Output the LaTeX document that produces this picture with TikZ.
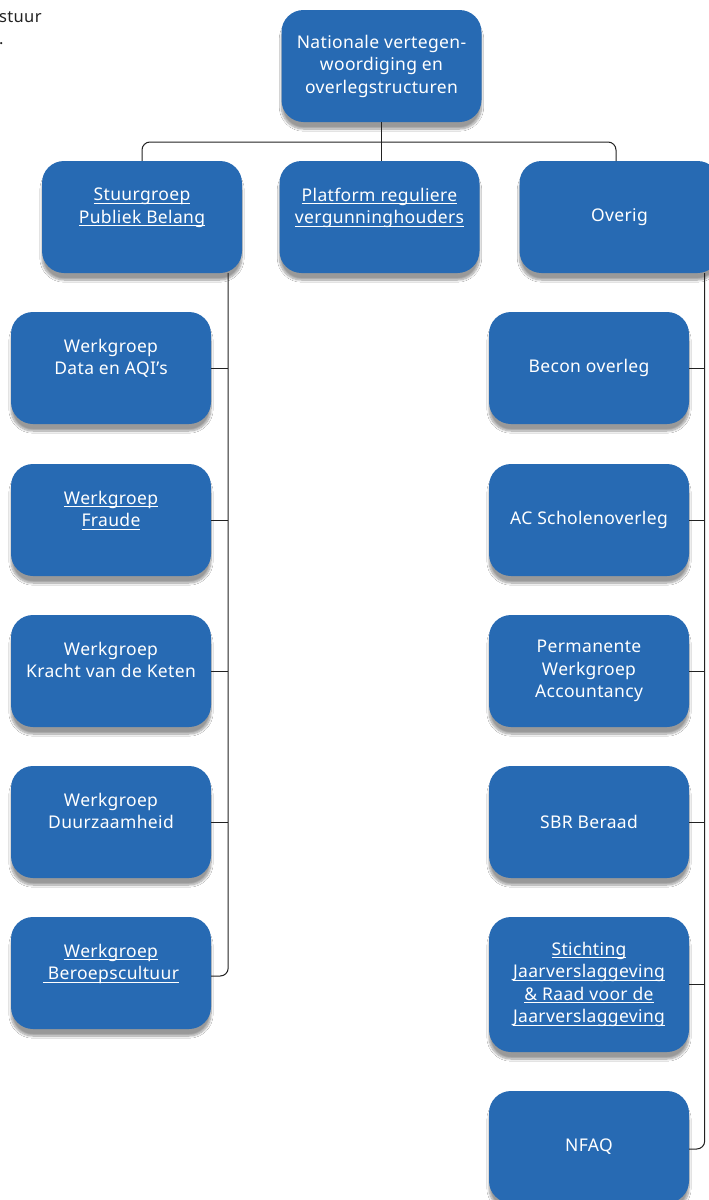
\documentclass[tikz,border=0pt]{standalone}
\usepackage{fontspec}
\setmainfont[LetterSpace=2]{Noto Sans}
\usetikzlibrary{shadows.blur,calc}
\definecolor{boxblue}{HTML}{276AB3}
\definecolor{linegray}{HTML}{222222}
\newsavebox\myulbox
\newcommand\myul[1]{\leavevmode\sbox\myulbox{#1}\rlap{\usebox\myulbox}\rule[-2.8pt]{\wd\myulbox}{0.9pt}}
\tikzset{
  orgbox/.style={draw=none, fill=boxblue, rounded corners=22pt, minimum width=200pt, minimum height=112pt,
    text=white, align=center, font=\fontsize{17.5}{22.5}\selectfont, inner sep=2pt,
    blur shadow={shadow xshift=0pt, shadow yshift=-7pt, shadow blur steps=10, shadow blur extra rounding=5pt, shadow opacity=40}},
  conn/.style={draw=linegray, line width=1pt, rounded corners=8pt},
}
\begin{document}
\begin{tikzpicture}[x=1pt,y=-1pt]
\useasboundingbox (0,0) rectangle (709,1200);
\clip (0,0) rectangle (709,1200);
\fill[white] (0,0) rectangle (709,1200);
\node[anchor=north west, align=left, inner sep=0pt, text=linegray, font=\fontsize{16.5}{22.5}\selectfont] (cut) at (-1,11) {stuur\\.};
% nodes
\node[orgbox] (top) at (381.5,66) {Nationale vertegen-\\woordiging en\\overlegstructuren};
\node[orgbox] (stuur) at (142,217) {\myul{Stuurgroep}\\\myul{Publiek Belang}\\\mbox{}};
\node[orgbox] (plat) at (379.5,217) {\myul{Platform reguliere}\\\myul{vergunninghouders}\\\mbox{}};
\node[orgbox] (overig) at (619.5,217) {Overig};
\node[orgbox] (w1) at (111,368) {Werkgroep\\Data en AQI’s\\\mbox{}};
\node[orgbox] (w2) at (111,520) {\myul{Werkgroep}\\\myul{Fraude}\\\mbox{}};
\node[orgbox] (w3) at (111,671) {Werkgroep\\Kracht van de Keten\\\mbox{}};
\node[orgbox] (w4) at (111,822) {Werkgroep\\Duurzaamheid\\\mbox{}};
\node[orgbox] (w5) at (111,973) {\myul{Werkgroep}\\\myul{\ Beroepscultuur}\\\mbox{}};
\node[orgbox] (r1) at (589,368) {Becon overleg};
\node[orgbox] (r2) at (589,520) {AC Scholenoverleg};
\node[orgbox] (r3) at (589,671) {Permanente\\Werkgroep\\Accountancy};
\node[orgbox] (r4) at (589,822) {SBR Beraad};
\node[orgbox, minimum height=135pt] (r5) at (589,984.5) {\myul{Stichting}\\\myul{Jaarverslaggeving}\\\myul{\&~Raad voor de}\\\myul{Jaarverslaggeving}};
\node[orgbox] (r6) at (589,1147) {NFAQ};
% connectors
\coordinate (hub) at (381.5,142);
\draw[conn] (stuur.north) |- (hub) -| (616,161);
\draw[conn] (top.south) -- (top.south |- plat.north);
\coordinate (lspine) at ([xshift=-14pt]stuur.south east);
\coordinate (rspine) at ([xshift=-15pt]overig.south east);
\draw[conn] (lspine) |- ([yshift=-3pt]w5.east);
\foreach \n in {w1,w2,w3,w4}{\draw[conn] (\n.east) -- (\n.east -| lspine);}
\draw[conn] (rspine) |- ([yshift=-2pt]r6.east);
\foreach \n in {r1,r2,r3,r4}{\draw[conn] (\n.east) -- (\n.east -| rspine);}
\draw[conn] (r5.east) -- (r5.east -| rspine);
\end{tikzpicture}
\end{document}
